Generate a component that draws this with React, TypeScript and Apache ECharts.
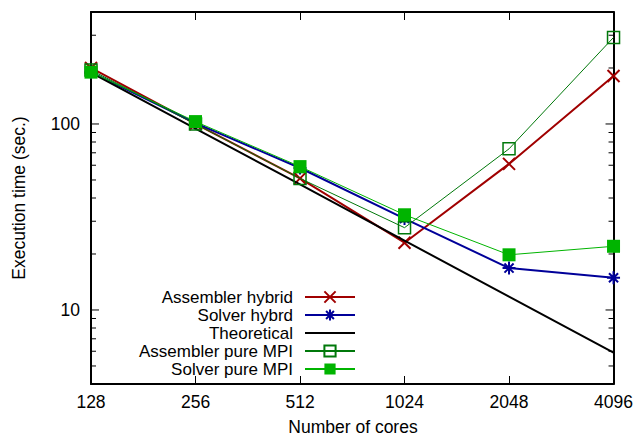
import React, { useEffect, useRef } from "react";
import * as echarts from "echarts";

const cores = ["128", "256", "512", "1024", "2048", "4096"];
const assemblerHybrid = [200, 100, 51, 23, 61, 181];
const solverHybrid = [190, 101, 58, 31, 16.8, 14.9];
const theoretical = [189, 94.5, 47.3, 23.6, 11.8, 5.9];
const assemblerPureMPI = [195, 100, 51, 27.7, 73.5, 292];
const solverPureMPI = [190, 103, 59, 32.5, 19.8, 22];

const seriesNames = [
  "Assembler hybrid",
  "Solver hybrd",
  "Theoretical",
  "Assembler pure MPI",
  "Solver pure MPI",
];
const majorTicks = [10, 100];
const minorTicks = [5, 6, 7, 8, 9, 20, 30, 40, 50, 60, 70, 80, 90, 200, 300];

const FONT = "Liberation Sans";
const FS = 17.5;
const LEGEND_FS = 17;
const RED = "#a00000";
const BLUE = "#000099";
const DKGREEN = "#00780a";
const LTGREEN = "#00b400";

const crossPath = "path://M0,0L10,10M10,0L0,10";
const starPath = "path://M5,0L5,10M0,5L10,5M1.5,1.5L8.5,8.5M8.5,1.5L1.5,8.5";

const legendRowTop = [288.5, 306.5, 324.5, 342.5, 360.5];

export default function App() {
  const ref = useRef<HTMLDivElement>(null);
  useEffect(() => {
    if (!ref.current) return;
    const chart = echarts.init(ref.current, null, { renderer: "svg" });
    const tickData = [...majorTicks, ...minorTicks].map((v) => [0, v]);
    const option: any = {
      animation: false,
      textStyle: { fontFamily: FONT, color: "#000" },
      grid: { left: 91, top: 12, width: 524, height: 372, containLabel: false },
      xAxis: [
        {
          type: "category",
          data: cores,
          boundaryGap: false,
          position: "bottom",
          axisLine: { onZero: false, lineStyle: { color: "#000", width: 2 } },
          axisTick: { inside: true, length: 8, lineStyle: { color: "#000", width: 1 } },
          axisLabel: { color: "#000", fontSize: FS, fontFamily: FONT, margin: 9 },
          splitLine: { show: false },
        },
        {
          type: "category",
          data: cores,
          boundaryGap: false,
          position: "top",
          axisLine: { onZero: false, lineStyle: { color: "#000", width: 2 } },
          axisTick: { inside: true, length: 8, lineStyle: { color: "#000", width: 1 } },
          axisLabel: { show: false },
          splitLine: { show: false },
        },
      ],
      yAxis: [
        {
          type: "log",
          logBase: 10,
          min: 4,
          max: 400,
          position: "left",
          axisLine: { show: true, lineStyle: { color: "#000", width: 2 } },
          axisTick: { show: false },
          axisLabel: {
            color: "#000",
            fontSize: FS,
            fontFamily: FONT,
            margin: 11,
            showMinLabel: false,
            showMaxLabel: false,
            formatter: (v: number) =>
              majorTicks.some((m) => Math.abs(m - v) < 1e-6) ? String(Math.round(v)) : "",
          },
          splitLine: { show: false },
        },
        {
          type: "log",
          logBase: 10,
          min: 4,
          max: 400,
          position: "right",
          axisLine: { show: true, lineStyle: { color: "#000", width: 2 } },
          axisTick: { show: false },
          axisLabel: { show: false },
          splitLine: { show: false },
        },
      ],
      legend: seriesNames.map((n, i) => {
        const l: any = {
          data: [n],
          orient: "vertical",
          right: 280,
          top: legendRowTop[i],
          itemWidth: 50,
          itemHeight: 14,
          align: "right",
          padding: 0,
          selectedMode: false,
          textStyle: {
            fontSize: LEGEND_FS,
            fontFamily: FONT,
            color: "#000",
            lineHeight: 15,
            padding: [0, 7, 0, 0],
          },
        };
        if (i === 2) {
          l.itemStyle = { color: "rgba(0,0,0,0)", borderColor: "rgba(0,0,0,0)", borderWidth: 0 };
        }
        return l;
      }),
      series: [
        {
          type: "custom",
          name: "ticks",
          silent: true,
          clip: false,
          z: 1,
          data: tickData,
          encode: { x: 0, y: 1 },
          renderItem: (params: any, api: any) => {
            const cs = params.coordSys;
            const v = api.value(1);
            const y = api.coord([0, v])[1];
            const len = majorTicks.includes(v) ? 8 : 5;
            return {
              type: "group",
              children: [
                { type: "line", shape: { x1: cs.x, y1: y, x2: cs.x + len, y2: y }, style: { stroke: "#000", lineWidth: 1 } },
                {
                  type: "line",
                  shape: { x1: cs.x + cs.width, y1: y, x2: cs.x + cs.width - len, y2: y },
                  style: { stroke: "#000", lineWidth: 1 },
                },
              ],
            };
          },
        },
        {
          type: "line",
          name: seriesNames[0],
          data: assemblerHybrid,
          symbol: crossPath,
          symbolSize: 12,
          showAllSymbol: true,
          lineStyle: { color: RED, width: 2 },
          itemStyle: { color: "rgba(0,0,0,0)", borderColor: RED, borderWidth: 2 },
          z: 2,
        },
        {
          type: "line",
          name: seriesNames[1],
          data: solverHybrid,
          symbol: starPath,
          symbolSize: 13,
          showAllSymbol: true,
          lineStyle: { color: BLUE, width: 2 },
          itemStyle: { color: "rgba(0,0,0,0)", borderColor: BLUE, borderWidth: 2 },
          z: 3,
        },
        {
          type: "line",
          name: seriesNames[2],
          data: theoretical,
          symbol: "none",
          lineStyle: { color: "#000", width: 2 },
          itemStyle: { color: "#000" },
          z: 4,
        },
        {
          type: "line",
          name: seriesNames[3],
          data: assemblerPureMPI,
          symbol: "rect",
          symbolSize: 12,
          showAllSymbol: true,
          lineStyle: { color: DKGREEN, width: 1 },
          itemStyle: { color: "rgba(0,0,0,0)", borderColor: DKGREEN, borderWidth: 1.5 },
          z: 5,
        },
        {
          type: "line",
          name: seriesNames[4],
          data: solverPureMPI,
          symbol: "rect",
          symbolSize: 13,
          showAllSymbol: true,
          lineStyle: { color: LTGREEN, width: 1 },
          itemStyle: { color: LTGREEN, borderWidth: 0 },
          z: 6,
        },
      ],
      graphic: [
        {
          type: "text",
          x: 19,
          y: 198,
          rotation: Math.PI / 2,
          style: {
            text: "Execution time (sec.)",
            fontSize: FS,
            fontFamily: FONT,
            fill: "#000",
            textAlign: "center",
            textVerticalAlign: "middle",
          },
        },
        {
          type: "text",
          x: 353,
          y: 427,
          style: {
            text: "Number of cores",
            fontSize: FS,
            fontFamily: FONT,
            fill: "#000",
            textAlign: "center",
            textVerticalAlign: "middle",
          },
        },
      ],
    };
    chart.setOption(option);
    return () => chart.dispose();
  }, []);
  return (
    <div
      ref={ref}
      style={{ position: "fixed", left: 0, top: 0, width: 636, height: 439, background: "#fff" }}
    />
  );
}
